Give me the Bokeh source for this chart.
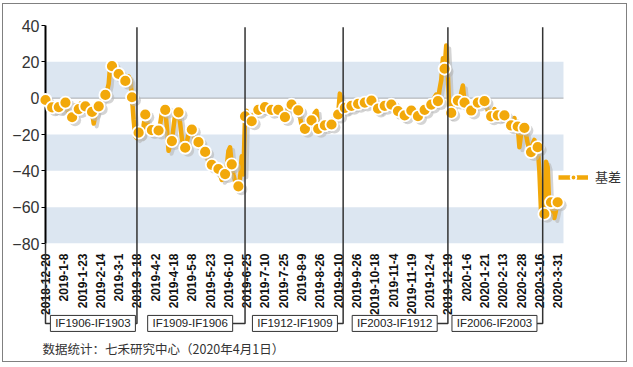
from math import pi
from bokeh.plotting import figure
from bokeh.models import (ColumnDataSource, Range1d, FixedTicker, BoxAnnotation,
                          Legend, LegendItem)
from bokeh.transform import dodge
from bokeh.core.properties import value
from bokeh.embed import file_html
from bokeh.resources import INLINE

# ---------------- data ----------------
tick_labels = ["2018-12-20", "2019-1-8", "2019-1-23", "2019-2-14", "2019-3-1", "2019-3-18",
               "2019-4-2", "2019-4-18", "2019-5-8", "2019-5-23", "2019-6-10", "2019-6-25",
               "2019-7-10", "2019-7-25", "2019-8-9", "2019-8-26", "2019-9-10", "2019-9-26",
               "2019-10-18", "2019-11-4", "2019-11-19", "2019-12-4", "2019-12-19", "2020-1-6",
               "2020-1-21", "2020-2-13", "2020-2-28", "2020-3-16", "2020-3-31"]
label_step = 11  # trading days between date labels

basis = [
    -1, -4, -6, -5,
    -5.1, -7, -6, -4,
    -4.9, -7, -6, -3,
    -2.4, -6, -9, -11,
    -10.5, -8, -4, -7,
    -6, -3, -6, -5,
    -4.5, -6, -5, -9,
    -7.6, -14, -9, -6,
    -4.5, -3, -1, 0,
    1.8, 4, 8, 19,
    17.6, 18, 15, 14,
    13.3, 12, 10, 8,
    9.5, 8, 12, 10,
    0.5, -12, -21, -22,
    -19, -21, -20, -15,
    -9, -12, -16, -19,
    -17.6, -19, -18, -17,
    -17.8, -14, -8, -7,
    -6.4, -16, -29, -26,
    -23.6, -16, -8.5, -9,
    -7.8, -14, -22, -27,
    -27.3, -24, -20, -17,
    -17.3, -20, -23, -25,
    -24.2, -26, -27, -29,
    -29.6, -32, -35, -37,
    -36.7, -38, -40, -41,
    -39, -42, -45, -44,
    -41.8, -38, -29, -27,
    -36.4, -42, -46, -47,
    -48.5, -44, -32, -42,
    -10, -7, -10, -12,
    -12.7, -9, -8, -7,
    -6.4, -5, -5, -4,
    -4.9, -4, -6, -7,
    -6.4, -7, -8, -7,
    -6.4, -8, -10, -11,
    -10.4, -8, -5, -4,
    -3.6, -5, -6, -7,
    -6.7, -10, -15, -17,
    -16.9, -15, -13, -12,
    -12.2, -10, -8, -7,
    -16.9, -17, -16, -15,
    -15, -16, -15, -14,
    -14.5, -12, -10, -8,
    -9, 2.5, -3, -6,
    -5.3, -7, -5, -4,
    -4.2, -5, -4, -3,
    -3.1, -4, -3, -2,
    -2.4, -3, -2, -1,
    -1.3, -2, -4, -6,
    -5.8, -7, -5, -4,
    -4.2, -5, -4, -3,
    -3.5, -4, -2.5, -5,
    -7.1, -8, -10, -11,
    -9.5, -8, -6, -5,
    -6.8, -8, -9, -10,
    -9.9, -8, -7, -6,
    -6.4, -5, -4, -3,
    -3.5, -2, 0.5, 2,
    -1.6, 5, 10, 22,
    16.2, 29, 12, -10,
    -8.1, -4, -2, -1,
    -1.3, -2, 3, 7,
    -2.4, -4, -6, -5,
    -6.8, -4, -3, -2,
    -2.4, -2, -1, -2,
    -1.6, -4, -7, -9,
    -10, -8, -6, -8,
    -9.5, -11, -10, -8,
    -9.5, -12, -14, -15,
    -15, -13, -11, -18,
    -15.6, -27, -20, -18,
    -16.3, -20, -25, -28,
    -29.7, -25, -23, -26,
    -27, -40, -62, -65,
    -63.7, -35, -38, -60,
    -57.3, -63, -66, -62,
    -57.3,
]
marker_every = 4

roll_idx = [55, 120, 179, 242, 299]
roll_labels = ["IF1906-IF1903", "IF1909-IF1906", "IF1912-IF1909", "IF2003-IF1912", "IF2006-IF2003"]

y_ticks = [40, 20, 0, -20, -40, -60, -80]
band_bottom = [0, -40, -80]
band_top = [20, -20, -60]

series_name = "基差"
caption = "数据统计：七禾研究中心（2020年4月1日）"

# ---------------- styling / layout ----------------
ORANGE = "#F2A80A"
SHADOW = "#B8B8B8"
plot_end = 311.5          # right end of the plotting area (index units)
view_end = 347.6          # canvas room to the right for the legend
box_center = [28.5, 87, 150, 210, 270]   # label box centres (index units)
box_half = 25.5
box_y = -124
sep_top = 39
caption_pos = (-1.8, -138)

x = list(range(len(basis)))
src = ColumnDataSource(dict(x=x, y=basis))
msrc = ColumnDataSource(dict(x=x[::marker_every], y=basis[::marker_every]))

p = figure(width=625, height=359, x_range=Range1d(0, view_end), y_range=Range1d(-80, 40),
           output_backend="svg", toolbar_location=None,
           min_border_left=42, min_border_right=5, min_border_top=21, min_border_bottom=120)
p.styles = {"border": "1px solid #808080", "margin-left": "2px", "margin-top": "3px"}
p.grid.visible = False
p.outline_line_color = None
p.background_fill_color = "white"
p.border_fill_color = "white"

for b, t in zip(band_bottom, band_top):
    p.add_layout(BoxAnnotation(bottom=b, top=t, left=0, right=plot_end, fill_color="#DCE6F1",
                               fill_alpha=1.0, line_color=None, level="underlay"))
# zero line
p.add_layout(BoxAnnotation(bottom=0, top=0, left=0, right=plot_end, fill_alpha=0,
                           line_color="#555555", line_width=1.5, level="underlay"))

# shadows
p.line(x=dodge("x", 1.8), y=dodge("y", -1.6), source=src, line_color=SHADOW,
       line_width=4, line_alpha=0.6, line_join="round")
p.scatter(x=dodge("x", 1.8), y=dodge("y", -1.6), source=msrc, size=12,
          fill_color=SHADOW, fill_alpha=0.6, line_color=None, level="overlay")
# series
ln = p.line(x="x", y="y", source=src, line_color=ORANGE, line_width=4.5, line_join="round")
mk = p.scatter(x="x", y="y", source=msrc, size=12, fill_color=ORANGE, line_color="white",
               line_width=1.8, level="overlay")

# separators and connectors
xs, ys = [], []
for r, c in zip(roll_idx, box_center):
    xs.append([r, r, c + box_half])
    ys.append([sep_top, box_y, box_y])
xs.append([0, 0, box_center[0] - box_half])
ys.append([-80, box_y, box_y])
p.multi_line(xs=xs, ys=ys, line_color="#333333", line_width=1.5, level="overlay")

# contract boxes
bsrc = ColumnDataSource(dict(x=box_center, y=[box_y] * len(box_center), t=roll_labels))
p.rect(x="x", y="y", width=85, height=16, width_units="screen", height_units="screen",
       source=bsrc, fill_color="white", line_color="#333333", line_width=1, level="overlay")
p.text(x="x", y="y", text="t", source=bsrc, text_align="center", text_baseline="middle",
       text_font=value("Liberation Sans"), text_font_size="11.5px", text_color="#222222",
       level="overlay")

# caption
p.text(x=[caption_pos[0]], y=[caption_pos[1]], text=[caption], text_baseline="middle",
       text_font=value("Noto Sans CJK SC"), text_font_size="12.5px", text_color="#333333",
       level="overlay")

# axes
ya = p.yaxis[0]
ya.ticker = FixedTicker(ticks=y_ticks)
ya.axis_line_color = "black"
ya.axis_line_width = 2
ya.major_tick_line_color = "black"
ya.major_tick_out = 4
ya.major_tick_in = 0
ya.minor_tick_line_color = None
ya.major_label_text_font = "Liberation Sans"
ya.major_label_text_font_size = "16px"
ya.major_label_text_color = "#333333"
ya.major_label_standoff = 2

xa = p.xaxis[0]
tick_pos = list(range(0, label_step * len(tick_labels), label_step))
xa.ticker = FixedTicker(ticks=tick_pos)
xa.major_label_overrides = {t: l for t, l in zip(tick_pos, tick_labels)}
xa.major_label_orientation = pi / 2
xa.major_label_text_font = "Liberation Sans"
xa.major_label_text_font_size = "12px"
xa.major_label_text_font_style = "bold"
xa.major_label_text_color = "#111111"
xa.major_label_standoff = 4
xa.axis_line_color = None
xa.major_tick_line_color = None
xa.minor_tick_line_color = None

legend = Legend(items=[LegendItem(label=series_name, renderers=[ln, mk])],
                location=(513, 57), padding=0, margin=0, spacing=0,
                glyph_width=30, glyph_height=14, label_standoff=7,
                label_text_font="Noto Sans CJK SC", label_text_font_size="13px",
                label_text_color="#333333", border_line_color=None,
                background_fill_alpha=0.0)
p.add_layout(legend)

open("out.html", "w").write(file_html(p, INLINE, title="basis"))
